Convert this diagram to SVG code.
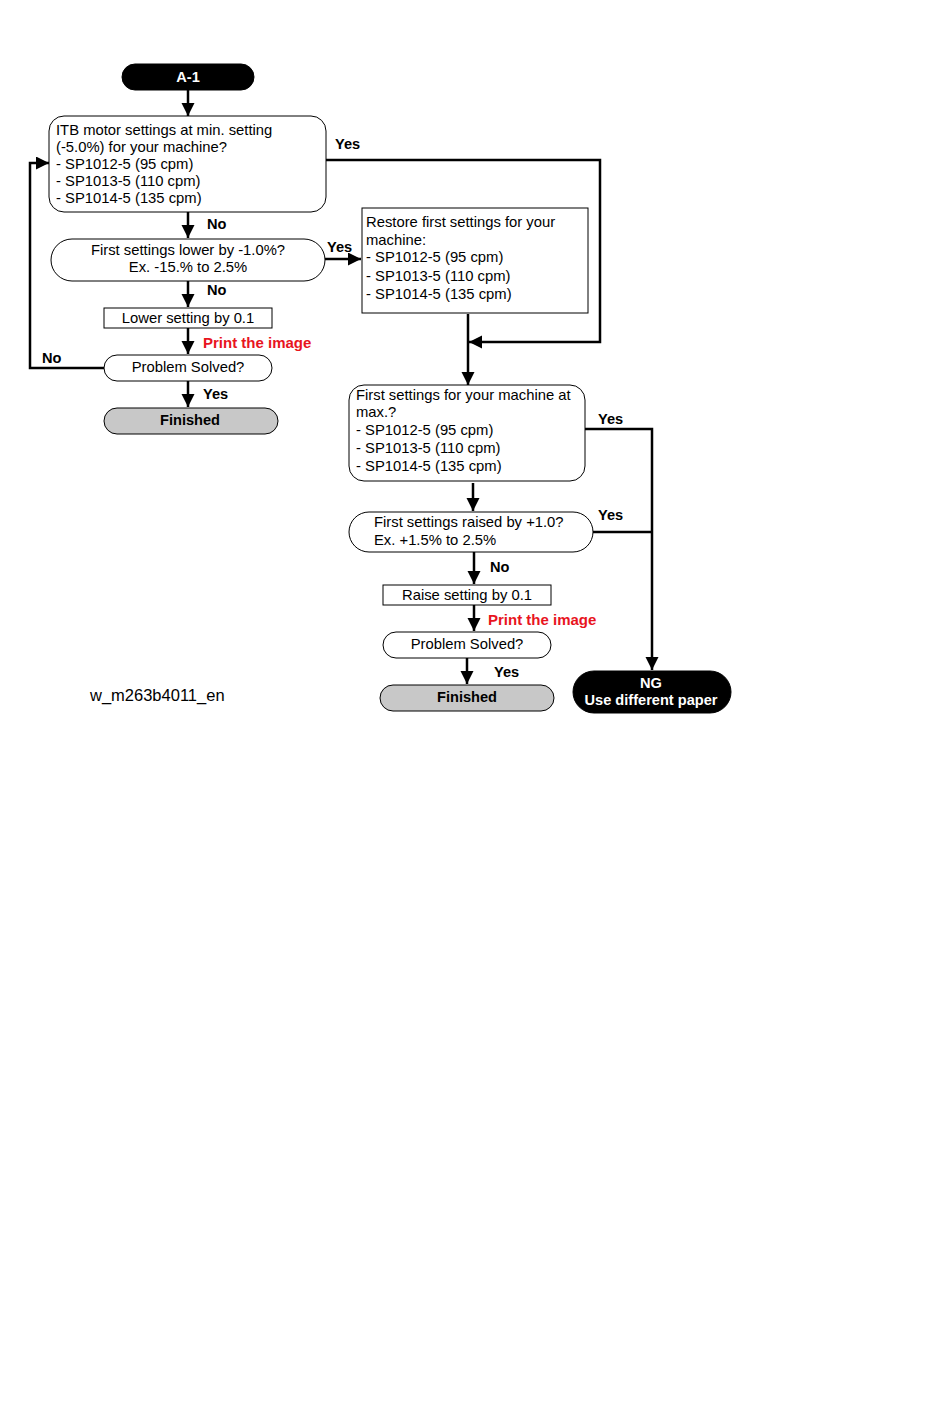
<svg xmlns="http://www.w3.org/2000/svg" width="950" height="1408" viewBox="0 0 950 1408">
<defs>
<marker id="ah" markerWidth="14" markerHeight="14" refX="13" refY="6.5" orient="auto" markerUnits="userSpaceOnUse">
<path d="M0,0 L13,6.5 L0,13 Z" fill="#000"/>
</marker>
<style>
text{font-family:"Liberation Sans",Arial,sans-serif;font-size:14.8px;fill:#000}
.b{font-weight:bold;font-size:14.6px}
.w{fill:#fff}
.r{fill:#e8141e;font-weight:bold;font-size:15px}
.n{fill:#fff;stroke:#000;stroke-width:1}
.g{fill:#c8c8c8;stroke:#000;stroke-width:1}
.k{fill:#000;stroke:#000}
.c{fill:none;stroke:#000;stroke-width:2.5}
.m{text-anchor:middle}
</style>
</defs>
<rect width="950" height="1408" fill="#fff"/>

<g id="connectors">
<path class="c" d="M188,90 V116" marker-end="url(#ah)"/>
<path class="c" d="M188,212 V238" marker-end="url(#ah)"/>
<path class="c" d="M326,160 H600 V342 H469" marker-end="url(#ah)"/>
<path class="c" d="M325,259 H361" marker-end="url(#ah)"/>
<path class="c" d="M468,314 V385" marker-end="url(#ah)"/>
<path class="c" d="M188,281 V307" marker-end="url(#ah)"/>
<path class="c" d="M188,328 V354" marker-end="url(#ah)"/>
<path class="c" d="M104,368 H30 V163 H49" marker-end="url(#ah)"/>
<path class="c" d="M188,381 V407" marker-end="url(#ah)"/>
<path class="c" d="M585,429 H652 V670" marker-end="url(#ah)"/>
<path class="c" d="M593,532 H652"/>
<path class="c" d="M473,483 V511" marker-end="url(#ah)"/>
<path class="c" d="M474,552 V584" marker-end="url(#ah)"/>
<path class="c" d="M474,605 V631" marker-end="url(#ah)"/>
<path class="c" d="M467,658 V684" marker-end="url(#ah)"/>
<text class="b" x="335" y="149">Yes</text>
<text class="b" x="207" y="229">No</text>
<text class="b" x="327" y="252">Yes</text>
<text class="b" x="207" y="295">No</text>
<text class="r" x="203" y="348">Print the image</text>
<text class="b" x="42" y="363">No</text>
<text class="b" x="203" y="399">Yes</text>
<text class="b" x="598" y="424">Yes</text>
<text class="b" x="598" y="520">Yes</text>
<text class="b" x="490" y="572">No</text>
<text class="r" x="488" y="625">Print the image</text>
<text class="b" x="494" y="677">Yes</text>
</g>

<g id="start">
<rect class="k" x="122" y="64" width="132" height="26" rx="13"/>
<text class="b w m" x="188" y="82">A-1</text>
</g>

<g id="q1">
<rect class="n" x="49" y="116" width="277" height="96" rx="15"/>
<text x="56" y="135">ITB motor settings at min. setting</text>
<text x="56" y="152">(-5.0%) for your machine?</text>
<text x="56" y="169">- SP1012-5 (95 cpm)</text>
<text x="56" y="186">- SP1013-5 (110 cpm)</text>
<text x="56" y="203">- SP1014-5 (135 cpm)</text>
</g>

<g id="q2">
<rect class="n" x="51" y="239" width="274" height="42" rx="21"/>
<text class="m" x="188" y="255">First settings lower by -1.0%?</text>
<text class="m" x="188" y="272">Ex. -15.% to 2.5%</text>
</g>

<g id="restore">
<rect class="n" x="362" y="208" width="226" height="105"/>
<text x="366" y="227">Restore first settings for your</text>
<text x="366" y="245">machine:</text>
<text x="366" y="262">- SP1012-5 (95 cpm)</text>
<text x="366" y="281">- SP1013-5 (110 cpm)</text>
<text x="366" y="299">- SP1014-5 (135 cpm)</text>
</g>

<g id="lower">
<rect class="n" x="104" y="308" width="168" height="20"/>
<text class="m" x="188" y="323">Lower setting by 0.1</text>
</g>

<g id="solved1">
<rect class="n" x="104" y="355" width="168" height="26" rx="13"/>
<text class="m" x="188" y="372">Problem Solved?</text>
</g>

<g id="finished1">
<rect class="g" x="104" y="408" width="174" height="26" rx="13"/>
<text class="b m" x="190" y="425">Finished</text>
</g>

<g id="q3">
<rect class="n" x="349" y="385" width="236" height="96" rx="15"/>
<text x="356" y="400">First settings for your machine at</text>
<text x="356" y="417">max.?</text>
<text x="356" y="435">- SP1012-5 (95 cpm)</text>
<text x="356" y="453">- SP1013-5 (110 cpm)</text>
<text x="356" y="471">- SP1014-5 (135 cpm)</text>
</g>

<g id="q4">
<rect class="n" x="349" y="512" width="244" height="40" rx="20"/>
<text x="374" y="527">First settings raised by +1.0?</text>
<text x="374" y="545">Ex. +1.5% to 2.5%</text>
</g>

<g id="raise">
<rect class="n" x="383" y="585" width="168" height="20"/>
<text class="m" x="467" y="600">Raise setting by 0.1</text>
</g>

<g id="solved2">
<rect class="n" x="383" y="632" width="168" height="26" rx="13"/>
<text class="m" x="467" y="649">Problem Solved?</text>
</g>

<g id="finished2">
<rect class="g" x="380" y="685" width="174" height="26" rx="13"/>
<text class="b m" x="467" y="702">Finished</text>
</g>

<g id="ng">
<rect class="k" x="573" y="671" width="158" height="42" rx="21"/>
<text class="b w m" x="651" y="688">NG</text>
<text class="b w m" x="651" y="705">Use different paper</text>
</g>

<text x="90" y="701" style="font-size:16.5px">w_m263b4011_en</text>
</svg>
